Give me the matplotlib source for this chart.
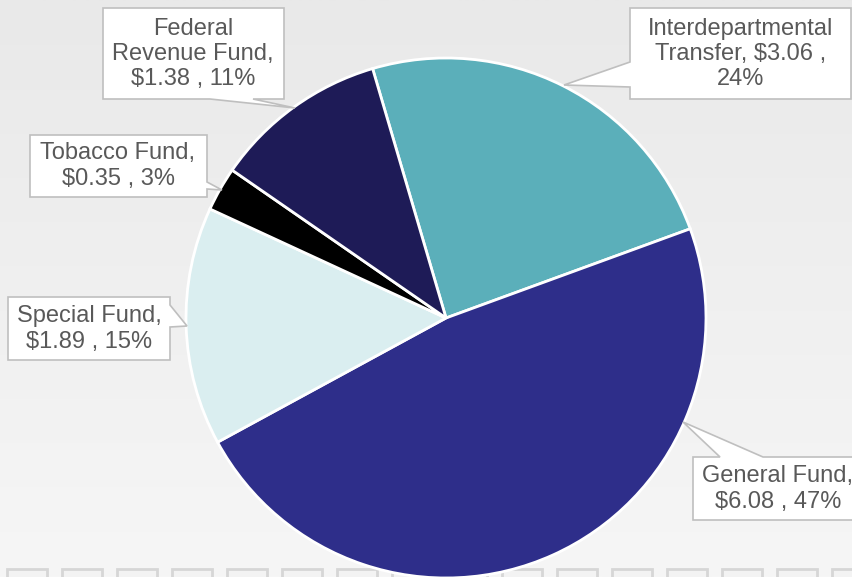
import numpy as np
import matplotlib.pyplot as plt
from matplotlib.patches import Polygon, Rectangle

# data (millions), in pie order clockwise from the top-left boundary
funds = ['Interdepartmental\nTransfer', 'General Fund', 'Special Fund',
         'Tobacco Fund', 'Federal\nRevenue Fund']
amounts = [3.06, 6.08, 1.89, 0.35, 1.38]
percents = [24, 47, 15, 3, 11]
colors = ['#5BAFBA', '#2E2E8A', '#DAEEF0', '#000000', '#1E1B57']

# label layout: format, text centre (pixels, y down), callout outline
fmts = ['{n}, ${v:.2f} ,\n{p}%', '{n},\n${v:.2f} , {p}%', '{n},\n${v:.2f} , {p}%',
        '{n},\n${v:.2f} , {p}%', '{n},\n${v:.2f} , {p}%']
text_pos = [(741, 54), (778, 489), (89, 329), (118, 166), (193, 54)]
outlines = [
    [(630, 8), (851, 8), (851, 99), (630, 99), (630, 87), (564, 85), (630, 62)],
    [(693, 457), (720, 457), (683, 422), (763, 457), (866, 457), (866, 520), (693, 520)],
    [(8, 297), (170, 297), (170, 305), (187, 326), (170, 327), (170, 360), (8, 360)],
    [(30, 135), (207, 135), (207, 182), (222, 190), (207, 189), (207, 197), (30, 197)],
    [(103, 8), (284, 8), (284, 99), (253, 99), (295, 108), (210, 99), (103, 99)],
]

W, H = 852, 577


def flip(pts):
    return [(x, H - y) for x, y in pts]


fig = plt.figure(figsize=(W / 100, H / 100), dpi=100)
ax = fig.add_axes([0, 0, 1, 1])

# background gradient
grad = np.linspace(0, 1, 256).reshape(-1, 1)
ax.imshow(grad, extent=(0, W, 0, H), cmap=plt.matplotlib.colors.LinearSegmentedColormap.from_list(
    'bg', ['#F6F6F6', '#E9E9E9']), origin='lower', aspect='auto', zorder=0)

# square pattern at the bottom
for i in range(16):
    ax.add_patch(Rectangle((7 + 55 * i, -20), 40, 28, facecolor='#F3F3F3',
                           edgecolor='#D6D6D6', lw=2, zorder=1))

ax.pie(amounts, colors=colors, startangle=106.4, counterclock=False,
       center=(446, H - 318), radius=260,
       wedgeprops=dict(edgecolor='white', linewidth=2, zorder=2))

for name, v, p, f, pos, outl in zip(funds, amounts, percents, fmts, text_pos, outlines):
    ax.add_patch(Polygon(flip(outl), closed=True, facecolor='white',
                         edgecolor='#BFBFBF', lw=1.2, zorder=3))
    ax.text(pos[0], H - pos[1], f.format(n=name, v=v, p=p), ha='center', va='center',
            fontsize=17, color='#595959', family='Liberation Sans',
            linespacing=1.2, zorder=4)

ax.set_xlim(0, W)
ax.set_ylim(0, H)
ax.set_aspect('auto')
ax.axis('off')

fig.savefig('out.png', dpi=100)
